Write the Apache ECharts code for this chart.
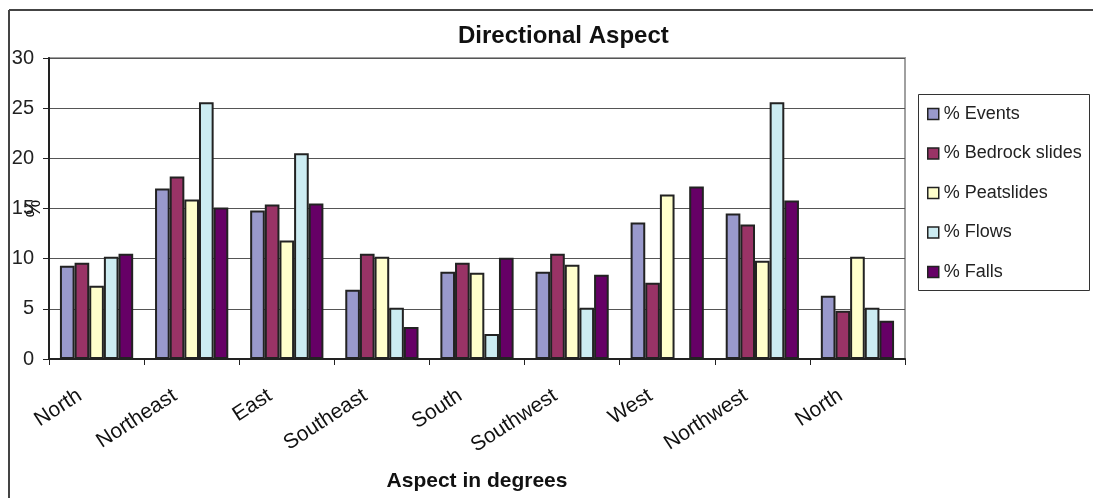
<!DOCTYPE html>
<html>
<head>
<meta charset="utf-8">
<script src="https://cdn.jsdelivr.net/npm/echarts@6/dist/echarts.min.js"></script>
<style>html,body{margin:0;padding:0;background:#fff;}#c{width:1093px;height:498px;}</style>
</head>
<body>
<div id="c"></div>
<script>
const categories = ['North','Northeast','East','Southeast','South','Southwest','West','Northwest','North'];
const seriesNames = ['% Events','% Bedrock slides','% Peatslides','% Flows','% Falls'];
const events   = [9.3, 17.0, 14.8, 6.9, 8.7, 8.7, 13.6, 14.5, 6.3];
const bedrock  = [9.6, 18.2, 15.4, 10.5, 9.6, 10.5, 7.6, 13.4, 4.8];
const peat     = [7.3, 15.9, 11.8, 10.2, 8.6, 9.4, 16.4, 9.8, 10.2];
const flows    = [10.2, 25.6, 20.5, 5.1, 2.5, 5.1, null, 25.6, 5.1];
const falls    = [10.5, 15.1, 15.5, 3.2, 10.1, 8.4, 17.2, 15.8, 3.8];
const yTicks = [0, 5, 10, 15, 20, 25, 30];

const colors = ['#9999cc','#993366','#ffffcc','#ccecf2','#660066'];
const dataSets = [events, bedrock, peat, flows, falls];
const font = '"Liberation Sans", Arial, sans-serif';

const chart = echarts.init(document.getElementById('c'));
chart.setOption({
  animation: false,
  backgroundColor: '#fff',
  title: {
    text: 'Directional Aspect',
    left: 453, top: 19,
    textStyle: { fontFamily: font, fontSize: 24, fontWeight: 'bold', color: '#111' }
  },
  legend: {
    orient: 'vertical',
    left: 927, top: 105, padding: 0,
    itemWidth: 11, itemHeight: 11, itemGap: 21.5,
    icon: 'rect',
    itemStyle: { borderColor: '#222', borderWidth: 1.5 },
    textStyle: { fontFamily: font, fontSize: 18, color: '#222' },
    data: seriesNames
  },
  grid: {
    left: 49, right: 188, top: 58, bottom: 139,
    containLabel: false, outerBoundsMode: 'none',
    show: true, borderColor: '#a0a0a0', borderWidth: 2
  },
  xAxis: {
    type: 'category',
    data: categories,
    boundaryGap: true,
    name: 'Aspect in degrees',
    nameLocation: 'middle',
    nameGap: 112,
    nameMoveOverlap: false,
    nameTextStyle: { fontFamily: font, fontSize: 21, fontWeight: 'bold', color: '#111' },
    axisLine: { lineStyle: { color: '#222', width: 2 } },
    axisTick: { show: true, length: 6, lineStyle: { color: '#222' } },
    axisLabel: {
      rotate: 33, margin: 24, padding: [0, 20, 0, 0],
      fontFamily: font, fontSize: 21, color: '#111', interval: 0
    }
  },
  yAxis: {
    type: 'value',
    min: 0, max: 30, interval: 5,
    name: '%',
    nameLocation: 'middle',
    nameRotate: 90,
    nameGap: 5,
    nameMoveOverlap: false,
    nameTextStyle: { fontFamily: font, fontSize: 20, color: '#111' },
    axisLine: { show: true, lineStyle: { color: '#222', width: 2 } },
    axisTick: { show: true, length: 6, lineStyle: { color: '#222' } },
    axisLabel: {
      margin: 15, fontFamily: font, fontSize: 20, color: '#222',
      formatter: v => yTicks.includes(v) ? String(v) : ''
    },
    splitLine: { show: true, lineStyle: { color: '#555', width: 1 } }
  },
  series: seriesNames.map((n, i) => ({
    name: n,
    type: 'bar',
    data: dataSets[i],
    barGap: '0%',
    barCategoryGap: '23%',
    itemStyle: { color: colors[i], borderColor: '#222', borderWidth: 2 }
  })),
  graphic: [
    { type: 'line', shape: { x1: 9, y1: 10, x2: 1093, y2: 10 }, style: { stroke: '#444', lineWidth: 2 } },
    { type: 'line', shape: { x1: 9, y1: 10, x2: 9, y2: 498 }, style: { stroke: '#444', lineWidth: 2 } },
    { type: 'rect', shape: { x: 918.5, y: 94.5, width: 171, height: 196 }, style: { fill: 'none', stroke: '#333', lineWidth: 1 } }
  ]
});
</script>
</body>
</html>
